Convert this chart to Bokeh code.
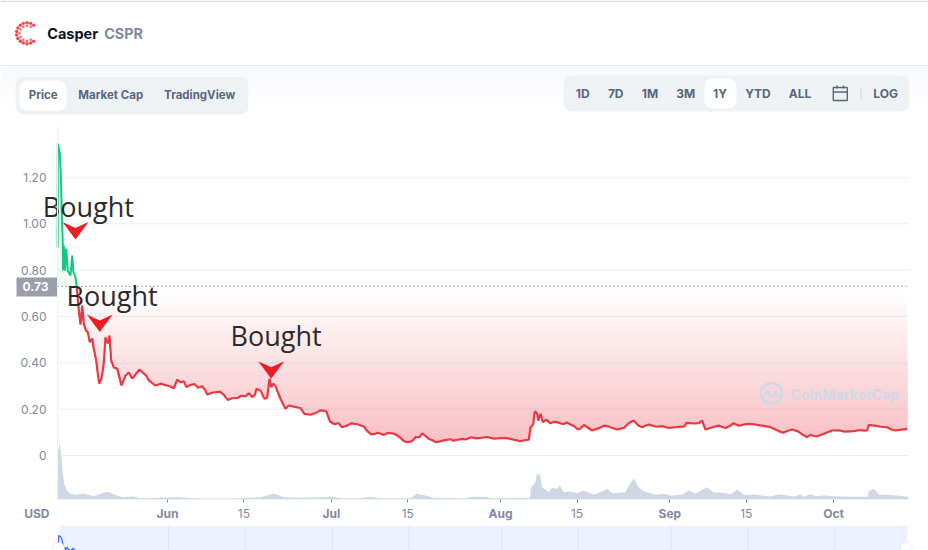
import numpy as np
from bokeh.embed import file_html
from bokeh.resources import INLINE
from bokeh.plotting import figure
from bokeh.layouts import column
from bokeh.models import BoxAnnotation, FixedTicker, Range1d
from bokeh.core.properties import value

# ---------- data ----------
price_day = [-20.12,-20.09,-19.73,-19.54,-19.36,-19.18,-19.14,-18.99,-18.81,-18.55,-18.26,-17.77,-17.45,-17.22,-16.85,-16.61,
 -16.36,-16.17,-15.93,-15.62,-15.33,-14.96,-14.6,-14.23,-13.79,-13.5,-13.06,-12.77,-12.51,-12.09,-11.67,-11.36,-10.93,-10.62,-10.31,
 -9.84,-9.21,-8.42,-7.69,-7.09,-6.47,-5.13,-3.9,-3.42,-2.2,-1.28,0.55,1.15,1.78,2.99,3.48,4.21,6.36,7.27,8.79,10.31,11.04,11.85,12.87,
 14.29,15.2,15.51,16.3,17.03,17.77,18.26,18.68,18.99,19.36,20.09,20.7,21.61,22.22,24.36,25.09,27.42,28.63,29.73,32,33.64,35.95,37.31,
 38.52,39.62,41.15,42.67,44.01,44.82,45.42,46.15,46.65,47.86,49.21,50.6,53.06,54.58,55.62,57.33,60.99,63.42,64.65,66.17,66.48,66.98,
 67.27,67.71,67.89,68.32,68.74,69.36,70.15,71.37,72.58,73.81,75.15,76.25,77.78,80.04,81.14,83.57,85.4,86.94,88.15,91.81,94.69,95.05,
 97.93,98.53,100.97,102.2,103.6,104.63,107.09,110.44,111.36,112.77,114.41,117.16,117.77,119,121.74,125.7,128.15,128.44,129.36,131.8,133.32,135.47,
 2.4,5.0,5.6,6.9,8.0,9.6,10.7,13.5,14.8,16.0,19.8,21.2,23.3,26.2,28.0,29.1,30.6,31.3,33.0,34.8,36.6,37.9,40.3,41.9,43.3,
 48.5,51.8,52.4,54,56.5,58.5,59.8,62.2,65.4,70.8,72,73.1,74.5,75.7,76.9,79,80.7,82.3,84.5,86.2,87.5,89.5,90.6,93,96.5,97.3,99.8,101.5,103,105.8,108.5,109.5,
 112.1,113.5,115.5,116.3,118.4,120.3,122.9,124,126.9,127.5,130.6,132.6,134.4]
price_usd = [.90,1.347,1.303,1.217,1.044,.915,.80,.906,.798,.893,.798,.777,.863,.79,.77,.726,
 .655,.61,.565,.647,.57,.54,.532,.489,.505,.462,.41,.354,.31,.332,.397,.51,.483,.518,.41,
 .38,.375,.302,.345,.358,.332,.371,.345,.324,.302,.31,.298,.29,.327,.32,.295,.305,.299,.263,.273,.263,.24,.247,.249,
 .255,.263,.252,.288,.28,.245,.249,.331,.295,.309,.28,.245,.202,.216,.205,.18,.187,.194,.148,.122,.139,.125,.091,
 .098,.089,.096,.076,.057,.062,.079,.079,.096,.072,.057,.065,.068,.069,.079,.076,.075,.068,.062,.068,.122,.134,
 .191,.18,.151,.18,.144,.155,.139,.144,.136,.134,.112,.132,.108,.129,.122,.119,.151,.122,.134,.119,.126,.141,
 .151,.112,.129,.119,.139,.129,.136,.122,.112,.098,.112,.079,.089,.083,.108,.105,.108,.132,.129,.122,.108,.115,
 .316,.308,.292,.282,.27,.276,.25,.258,.268,.262,.30,.22,.21,.176,.195,.19,.135,.14,.13,.135,.105,.093,.097,.09,.062,
 .066,.07,.064,.072,.074,.08,.073,.075,.066,.146,.138,.142,.126,.118,.122,.118,.126,.112,.14,.13,.128,.124,.127,.122,.138,.14,.122,.124,.127,.135,.13,.127,
 .104,.106,.104,.09,.084,.095,.109,.103,.11,.107,.124,.112,.112]
volume_day = [-20.15,-20.09,-19.73,-19.41,-19.18,-18.86,-18.37,-17.77,-16.85,-15.33,-13.5,-12.27,-11.04,-9.21,-8.3,-6.23,-4.95,1.78,6.04,12.09,
 17.03,19.47,21.3,24.36,30.16,31.7,35.35,37.18,39,44.5,45.73,47.8,48.72,54.58,56.04,58.24,59.5,66.36,66.61,67.4,67.58,67.89,68.19,68.63,69.84,
 70.46,71.37,71.85,72.58,73.81,75.04,76.25,78.08,79.3,80.53,81.45,83.88,84.49,85.4,86.32,87.23,89.38,90.9,92.12,94.27,95.48,96.7,98.72,100.05,
 101.89,103.11,104.34,105.55,107.38,110.44,111.96,114.71,115.93,116.54,117.77,118.68,120.2,122.03,125.09,128.26,128.44,129.36,130.27,133.02,135.7]
volume_musd = [0,46,56,42,26,14,9,5.7,4.7,5.7,3.3,5.7,7.7,4,2.3,3,1.3,2.3,1,1,
 2.3,6,2.3,1.7,2.7,1.3,1.3,2.7,1.3,1.3,5.7,3.3,1.7,1.3,2.7,2.7,1.3,1.7,12.3,17.3,25.7,24,26.3,12.3,7.3,
 11.7,10.7,14,7.3,8,6.3,9,4.7,7.3,10.7,6.3,7.3,14,20.7,12.3,8.3,4.7,5.7,4,4.7,9,5.7,12.3,7.3,
 6.7,5,10,4.7,5,3,5.3,3,5,2.7,5.3,3.3,4,3.3,2.7,2.7,8.3,10.7,5,4.3,2.7]
y_ticks = [0, .2, .4, .6, .8, 1.0, 1.2]
y_labels = ["0", "0.20", "0.40", "0.60", "0.80", "1.00", "1.20"]
x_ticks = [0, 14, 30, 44, 61, 75, 92, 106, 122]
x_labels = ["Jun", "15", "Jul", "15", "Aug", "15", "Sep", "15", "Oct"]
open_price = 0.73
bought_text_day = [-22.85, -18.5, 11.54]
bought_text_usd = [1.074, .69, .518]
bought_tip_day = [-16.85, -12.41, 18.99]
bought_tip_usd = [.932, .533, .331]
tabs_left = ["Price", "Market Cap", "TradingView"]
tabs_left_x = [42.7, 110.2, 199.2]
tabs_right = ["1D", "7D", "1M", "3M", "1Y", "YTD", "ALL", "LOG"]
tabs_right_x = [582.2, 615.2, 649.5, 685.2, 719.5, 757.5, 799.5, 885.2]

GREY = "#808a9d"; DARK = "#58667e"; RED = "#ea3943"; GREEN = "#16c784"
F = value("Inter")
PXD = 5.46; PXU = 231.7
def X(px): return (np.asarray(px, float) - 167) / PXD      # canvas px -> day
def Y(px): return (455 - np.asarray(px, float)) / PXU      # canvas px -> usd
day_min, day_max = float(X(57)), float(X(908))
usd_min, usd_max = float(Y(499)), float(Y(125))

# ---------- header ----------
h = figure(width=928, height=125, x_range=(0, 928), y_range=(125, 0), toolbar_location=None,
           output_backend="svg", min_border=0, frame_align=False)
h.axis.visible = False; h.grid.visible = False; h.outline_line_color = None
for i in range(14):
    t = i / 13
    c = tuple(int(round(a + (255 - a) * t)) for a in (246, 248, 251))
    g = h.quad(left=0, right=928, top=66 + i * 3, bottom=69 + i * 3, fill_color="#%02x%02x%02x" % c, line_color=None)
    g.level = "image"
h.quad(left=0, right=928, top=64.5, bottom=65.8, fill_color="#e6e9ee", line_color=None)
h.quad(left=0, right=928, top=0, bottom=1.5, fill_color="#d9dce1", line_color=None)
for l, r, t, b, col in [(15, 248, 76, 114, "#eff2f5"), (19, 66, 80, 110, "#ffffff"),
                        (563, 909, 75, 111, "#eff2f5"), (704, 736, 78, 108, "#ffffff")]:
    h.add_layout(BoxAnnotation(left=l, right=r, top=t, bottom=b, fill_color=col, fill_alpha=1, line_alpha=0,
                               border_radius=8, level="underlay"))
# logo
ang_o = np.radians(np.arange(50, 311, 20)); ang_i = np.radians(np.arange(60, 301, 30))
h.scatter(26.5 + 10.5 * np.cos(ang_o), 32.7 - 10.5 * np.sin(ang_o), size=3.4, color="#f4454c", line_color=None)
h.scatter(26.5 + 7.5 * np.cos(ang_i), 32.7 - 7.5 * np.sin(ang_i), size=2.6, color="#f66a70", line_color=None)
h.text([46.7], [32.8], text=["Casper"], text_font=F, text_font_style="bold", text_font_size="14.5px",
       text_color="#0d1421", text_baseline="middle")
h.text([103.7], [32.8], text=["CSPR"], text_font=F, text_font_style="bold", text_font_size="14.3px",
       text_color=GREY, text_baseline="middle")
h.text(tabs_left_x, [94.3] * 3, text=tabs_left, text_font=F, text_font_style="bold", text_font_size="11.5px",
       text_color=DARK, text_align="center", text_baseline="middle")
h.text(tabs_right_x, [92.8] * 8, text=tabs_right, text_font=F, text_font_style="bold", text_font_size="12px",
       text_color=DARK, text_align="center", text_baseline="middle")
h.quad(left=832.8, right=846.8, top=87, bottom=100, fill_color=None, line_color=DARK, line_width=1.4)
h.segment([832.8, 836.5, 843], [91.5, 85, 85], [846.8, 836.5, 843], [91.5, 88, 88], line_color=DARK, line_width=1.4)
h.segment([860.6], [87], [860.6], [100], line_color="#cfd6e4", line_width=1)

# ---------- main: the frame fills the whole canvas, the axes are fixed inside it ----------
p = figure(width=928, height=400, x_range=Range1d(float(X(0)), float(X(928))), y_range=Range1d(float(Y(525)), float(Y(125))),
           toolbar_location=None, output_backend="svg", min_border=0, frame_align=False)
p.outline_line_color = None
p.grid.visible = False
p.yaxis.fixed_location = day_min
p.xaxis.fixed_location = usd_min
p.yaxis.bounds = (usd_min, usd_max)
p.xaxis.bounds = (day_min, day_max)
p.yaxis.ticker = FixedTicker(ticks=y_ticks)
p.yaxis.major_label_overrides = dict(zip(y_ticks, y_labels))
p.yaxis.major_tick_line_color = None; p.yaxis.minor_tick_line_color = None
p.yaxis.axis_line_color = "#eff2f5"; p.yaxis.major_label_standoff = 5
p.yaxis.major_label_text_font = "Inter"; p.yaxis.major_label_text_font_size = "12px"
p.yaxis.major_label_text_color = GREY
p.yaxis.major_label_text_font_style = "normal"
p.xaxis.ticker = FixedTicker(ticks=x_ticks)
p.xaxis.major_label_overrides = {t: (l if l != "15" else " ") for t, l in zip(x_ticks, x_labels)}
p.xaxis.axis_line_color = "#eff2f5"; p.xaxis.major_tick_line_color = GREY
p.xaxis.major_tick_in = 0; p.xaxis.major_tick_out = 3; p.xaxis.minor_tick_line_color = None
p.xaxis.major_label_standoff = 3
p.xaxis.major_label_text_font = "Inter"; p.xaxis.major_label_text_font_size = "12px"
p.xaxis.major_label_text_color = GREY; p.xaxis.major_label_text_font_style = "bold"
fifteen = [t for t, l in zip(x_ticks, x_labels) if l == "15"]
p.text(fifteen, [float(Y(513))] * len(fifteen), text=["15"] * len(fifteen), text_align="center", text_baseline="middle",
       text_font=F, text_font_size="12px", text_color=GREY)
p.text([float(X(49))], [float(Y(512.7))], text=["USD"], text_align="right", text_baseline="middle", text_font=F,
       text_font_style="bold", text_font_size="12px", text_color=GREY)

order = np.argsort(price_day)
days = np.array(price_day)[order]; usd = np.array(price_usd)[order]
cross = int(np.argmax(usd < open_price))
p.varea(days[:cross + 1], np.full(cross + 1, open_price), np.maximum(usd[:cross + 1], open_price), fill_color="#f0fbf6")
rd, ru = days[cross - 1:], np.minimum(usd[cross - 1:], open_price)
N = 36
for k in range(N):
    t = k / (N - 1)
    hi = open_price - t * 0.68
    c = tuple(int(round(255 + (b - 255) * t)) for b in (248, 190, 195))
    p.varea(rd, np.minimum(ru, hi), np.full(len(rd), hi), fill_color="#%02x%02x%02x" % c)

p.segment([day_min] * len(y_ticks), y_ticks, [day_max] * len(y_ticks), y_ticks, line_color=GREY, line_alpha=0.14, line_width=1)

p.extra_y_ranges = {"vol": Range1d(-26, 374)}
p.varea(volume_day, [0] * len(volume_day), volume_musd, fill_color="#cfd6e4", y_range_name="vol")

p.segment([day_min], [open_price], [day_max], [open_price], line_color="#4a5464", line_dash="1 3", line_width=1)
# price tag
p.quad(left=[float(X(16))], right=[day_min], top=[float(Y(277))], bottom=[float(Y(296))], fill_color="#9a9fab", line_color=None)
p.text([float(X(35))], [float(Y(286))], text=["0.73"], text_align="center", text_baseline="middle", text_font=F,
       text_font_style="bold", text_font_size="12px", text_color="#ffffff")

p.line(days[:cross + 1], usd[:cross + 1], line_color=GREEN, line_width=2)
p.line(days[cross:], usd[cross:], line_color=RED, line_width=2.2)

# watermark
wc = "#cdd9e6"
wx, wy = float(X(771)), float(Y(393))
p.scatter([wx], [wy], size=21, fill_color=None, line_color=wc, line_width=2.4)
p.line(wx + np.array([-8, -4, -1, 1, 4, 6, 8]) / PXD, wy - np.array([4, -3, 3, 3, -3, 2, 3]) / PXU, line_color=wc, line_width=2.2)
p.text([float(X(790))], [float(Y(394))], text=["CoinMarketCap"], text_font=F, text_font_style="bold",
       text_font_size="14.2px", text_color=wc, text_baseline="middle")

# Bought notes
p.text(bought_text_day, bought_text_usd, text=["Bought"] * 3, text_font=value("Open Sans"), text_font_size="27px",
       text_color="#2b2b2b", text_baseline="middle")
for d, u in zip(bought_tip_day, bought_tip_usd):
    p.patch(d + np.array([0, -13, 0, 13]) / PXD, u + np.array([0, 17.5, 11.5, 17.5]) / PXU, fill_color="#ed1c24", line_color=None)

# ---------- navigator ----------
NXD = 5.464
n = figure(width=928, height=25, x_range=(-168 / NXD, 760 / NXD), y_range=(1.347 - 15 / 26, 1.347 + 10 / 26), toolbar_location=None,
           output_backend="svg", min_border=0, frame_align=False)
n.axis.visible = False; n.grid.visible = False; n.outline_line_color = None
nl, nr = (59 - 168) / NXD, (907 - 168) / NXD
n.quad(left=[nl], right=[nr], top=[1.73], bottom=[0.77], fill_color="#edf1fd", line_color=None)
n.segment(x_ticks, [0.77] * len(x_ticks), x_ticks, [1.73] * len(x_ticks), line_color="#dfe5f3", line_width=1)
n.line(days, usd, line_color="#3861fb", line_width=1.2)
n.scatter([nl - 0.2, nr - 0.2], [0.85, 0.85], size=12, fill_color="#ffffff", line_color="#e4e7ee", line_width=0.7)

page = column(h, p, n, spacing=0)
open("out.html", "w").write(file_html(page, INLINE))
